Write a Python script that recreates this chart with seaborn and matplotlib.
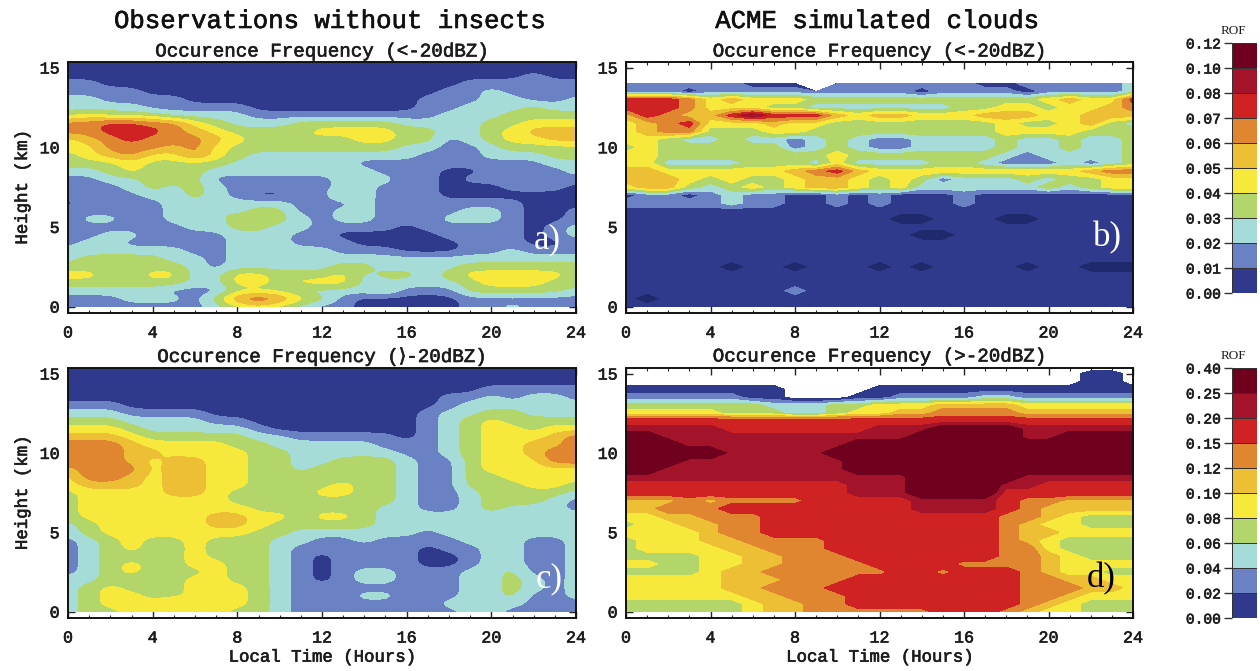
import numpy as np
import matplotlib
matplotlib.use("Agg")
import matplotlib.pyplot as plt
import matplotlib.patheffects as pe
from matplotlib.colors import ListedColormap
from matplotlib.text import Text
from matplotlib.ticker import MultipleLocator
import seaborn as sns

TIME = list(range(25))
HEIGHT_TOP_DOWN = [15.35, 15, 14.5, 14, 13.5, 13, 12.5, 12, 11.5, 11, 10.5, 10, 9.5, 9, 8.5, 8, 7.5, 7, 6.5, 6,
                   5.5, 5, 4.5, 4, 3.5, 3, 2.5, 2, 1.5, 1, 0.5, 0]
LEVELS_LOW = [0, .01, .02, .03, .04, .05, .06, .07, .08, .10, .12]
LEVELS_HIGH = [0, .02, .04, .06, .08, .10, .12, .15, .20, .25, .40]
COLORS = ["#2f3a8c", "#6a82c4", "#a6dcd8", "#b3d66a", "#f6e93c", "#ecbf35", "#e08530", "#cf2323", "#a31329", "#70011e"]
DARK = "#1f2a6d"

# Colour class per cell, height rows from top to bottom, hours 0..24. -1 = no data, -2 = darker than the lowest class
CLASS_A = [
 [0]*25, [0]*25,
 [0,0,0,0,0,0,0,0,0,0,0,0,0,0,0,0,0,0,0,0,0,0,1,0,0],
 [1,1,0,0,0,0,0,0,0,0,0,0,0,0,0,0,0,0,0,1,1,1,1,1,1],
 [1,1,1,1,0,0,0,0,0,0,0,0,0,0,0,0,0,0,1,1,2,1,1,0,1],
 [2,2,1,1,1,1,0,0,0,0,0,0,0,0,0,0,0,1,1,1,2,2,1,1,2],
 [2,2,2,2,1,1,1,1,1,0,0,0,0,0,0,0,0,1,1,2,2,2,3,2,2],
 [3,4,3,3,3,2,2,2,2,1,1,1,1,1,1,1,1,1,2,2,2,3,3,3,3],
 [6,6,7,7,6,6,4,3,2,2,2,3,3,3,3,3,2,2,2,2,3,3,4,4,4],
 [6,6,7,7,7,6,5,4,3,3,3,3,4,4,4,4,3,3,2,2,3,4,5,5,5],
 [4,5,6,7,6,6,6,5,4,3,3,4,3,3,4,4,3,3,1,2,3,4,4,5,5],
 [4,4,6,6,6,5,6,4,3,3,3,3,3,3,3,3,2,2,1,1,2,3,3,3,3],
 [3,4,5,6,4,4,6,4,3,2,2,2,2,2,2,2,2,1,1,1,2,2,2,3,3],
 [3,3,3,4,3,3,3,3,2,2,2,2,2,2,1,1,1,1,1,1,1,1,1,2,2],
 [2,2,3,4,3,3,3,2,2,2,2,2,2,2,2,1,1,1,0,0,1,1,1,1,2],
 [1,1,2,2,3,3,3,1,1,1,1,1,1,2,2,2,1,1,0,1,1,1,1,1,1],
 [1,1,1,2,3,2,3,2,1,1,1,1,1,2,2,1,1,1,0,0,0,1,1,1,0],
 [1,1,1,1,2,2,3,2,1,0,0,1,1,3,2,1,1,1,0,0,0,0,0,0,0],
 [0,1,1,1,1,2,2,2,2,2,2,1,1,1,2,1,1,1,1,1,1,1,0,0,0],
 [1,1,1,1,1,2,2,3,2,3,3,1,1,2,2,1,1,1,1,2,2,1,0,0,1],
 [1,2,2,1,1,2,2,2,3,3,3,2,1,2,2,1,1,1,2,2,2,1,0,0,1],
 [1,1,1,1,1,1,2,2,3,3,2,2,1,1,1,1,0,1,1,1,1,1,0,1,2],
 [1,1,2,2,1,1,1,1,2,2,2,1,1,0,0,0,0,0,1,1,1,1,0,1,2],
 [1,2,2,1,1,1,1,1,2,2,2,1,1,1,0,0,0,0,0,1,1,1,0,0,1],
 [2,2,2,2,2,2,1,1,2,2,2,2,2,1,1,1,0,0,0,1,1,2,1,1,1],
 [2,3,3,3,3,2,2,1,2,2,2,2,2,2,2,2,2,2,2,2,2,2,2,2,2],
 [3,3,3,3,3,3,2,1,2,2,2,2,2,3,3,2,2,2,2,3,3,3,3,3,3],
 [4,4,3,3,4,4,2,2,4,4,3,3,3,4,2,3,3,2,3,4,4,4,4,4,3],
 [3,3,3,3,3,3,2,2,4,4,3,4,4,4,2,2,2,2,2,3,4,4,4,3,3],
 [2,2,2,2,2,1,1,1,3,3,3,2,2,2,2,3,1,1,1,3,3,3,3,3,2],
 [1,1,1,2,2,2,1,3,6,7,6,4,3,1,0,0,0,0,0,1,1,1,1,1,1],
 [1,1,1,1,1,1,1,2,3,4,3,2,1,1,0,0,0,0,0,1,1,2,1,1,1],
]
CLASS_B = [
 [-1]*25, [-1]*25, [-1]*25,
 [1,1,1,1,1,1,0,0,0,-1,1,1,1,1,1,1,1,0,0,1,1,1,1,1,2],
 [1,1,1,0,1,1,1,1,1,1,1,1,1,1,0,1,1,1,1,0,1,1,1,1,2],
 [7,7,7,6,4,5,4,4,4,3,3,3,3,3,3,3,3,3,3,3,4,5,4,4,7],
 [7,7,7,6,4,4,4,3,3,2,2,2,2,2,2,2,3,3,4,4,3,4,4,5,6],
 [5,7,6,5,5,7,8,7,7,7,5,4,5,5,4,4,4,5,5,5,4,4,5,5,5],
 [4,5,6,7,4,4,4,5,4,4,3,3,3,3,3,3,3,3,4,3,3,4,5,3,2],
 [4,5,6,6,3,3,3,4,4,3,3,3,3,3,3,3,3,3,4,4,4,4,3,3,3],
 [4,4,3,2,2,3,2,2,1,2,3,2,1,1,2,2,2,2,3,2,2,3,2,2,3],
 [3,4,3,3,3,3,3,3,1,2,3,2,1,1,2,2,2,2,3,2,2,3,2,2,3],
 [4,4,3,3,3,3,3,3,3,3,4,3,3,3,3,3,3,3,2,1,2,2,2,2,3],
 [4,4,2,2,2,2,3,3,3,2,4,2,2,2,2,3,3,2,1,1,1,2,1,2,3],
 [5,5,4,4,4,4,4,4,5,6,7,5,4,4,4,4,4,4,4,4,4,4,5,6,6],
 [5,5,5,4,3,4,3,3,4,5,5,4,3,4,3,1,2,2,2,3,2,3,3,4,4],
 [4,5,5,3,2,3,4,3,4,5,5,4,3,4,2,2,2,2,2,2,3,2,3,4,4],
 [0,1,1,0,1,2,1,1,0,0,1,0,1,0,0,0,1,0,0,0,0,0,0,0,0],
 [1,1,1,1,1,2,1,1,0,0,1,0,1,0,0,0,1,0,0,0,0,0,0,0,0],
 [0]*25,
 [0,0,0,0,0,0,0,0,0,0,0,0,0,-2,-2,0,0,0,-2,-2,0,0,0,0,0],
 [0]*25,
 [0,0,0,0,0,0,0,0,0,0,0,0,0,0,-2,-2,0,0,0,0,0,0,0,0,0],
 [0]*25, [0]*25, [0]*25,
 [0,0,0,0,0,-2,0,0,-2,0,0,0,-2,0,-2,0,0,0,0,-2,0,0,-2,-2,-2],
 [0]*25, [0]*25,
 [0,0,0,0,0,0,0,0,1,0,0,0,0,0,0,0,0,0,0,0,0,0,0,0,0],
 [0,-2,0,0,0,0,0,0,0,0,0,0,0,0,0,0,0,0,0,0,0,0,0,0,0],
 [0]*25,
]
CLASS_C = [
 [0]*25, [0]*25, [0]*25,
 [0,0,0,0,0,0,0,0,0,0,0,0,0,0,0,0,0,0,0,0,1,1,1,1,1],
 [0,0,0,0,0,0,0,0,0,0,0,0,0,0,0,0,0,0,1,1,2,1,2,2,1],
 [1,1,1,0,0,0,0,0,0,0,0,0,0,0,0,0,0,0,1,2,2,2,2,2,2],
 [2,2,2,1,1,1,1,0,0,0,0,0,0,0,0,0,0,1,2,2,3,3,2,2,2],
 [3,3,3,2,2,2,2,1,1,0,0,0,0,0,0,0,0,1,2,3,4,3,3,3,3],
 [4,4,4,3,2,2,2,2,2,1,0,0,0,0,0,0,0,1,2,3,4,4,3,4,4],
 [5,5,5,4,3,3,3,3,3,2,2,1,1,1,1,1,0,1,2,3,4,4,4,5,6],
 [6,6,6,5,4,4,4,4,3,3,2,2,2,2,2,1,1,1,2,3,4,4,5,5,6],
 [6,6,6,5,5,4,4,4,4,3,3,2,2,2,2,2,1,1,2,3,4,4,5,6,6],
 [6,6,6,5,4,5,5,4,4,3,3,2,2,3,3,3,2,1,1,3,4,4,4,6,6],
 [5,6,6,6,4,5,5,4,4,3,3,2,3,3,3,3,2,1,1,3,4,4,4,4,4],
 [4,6,6,5,4,5,5,4,4,3,3,3,3,3,3,3,2,1,1,3,3,4,4,4,4],
 [4,5,5,5,4,5,5,4,4,3,3,3,3,4,3,3,2,1,1,3,3,3,4,4,3],
 [3,4,4,4,4,5,5,4,3,3,3,3,4,4,3,3,2,1,1,2,3,3,3,3,2],
 [3,4,4,4,4,4,4,4,3,3,3,3,3,3,3,3,2,1,1,2,3,3,3,2,1],
 [3,4,4,4,4,4,4,4,4,3,3,3,3,3,3,2,2,1,1,2,3,2,2,2,1],
 [3,4,4,4,4,4,4,5,5,4,4,3,4,4,3,2,2,2,2,2,2,2,2,2,2],
 [2,3,4,4,4,4,4,5,5,4,3,3,3,3,3,2,2,2,2,2,2,3,2,2,2],
 [2,3,4,4,4,4,4,4,4,3,3,2,2,2,2,2,2,1,2,2,2,2,2,2,2],
 [1,2,3,4,3,3,4,3,3,3,2,2,1,1,2,1,1,1,1,2,2,2,1,1,2],
 [1,2,3,4,3,3,4,3,3,3,2,1,1,1,1,1,1,0,1,1,2,2,1,1,2],
 [1,2,3,3,3,3,4,3,3,3,2,1,0,1,1,1,1,0,0,1,2,2,1,1,2],
 [1,2,3,4,3,3,4,4,3,3,2,1,0,1,1,1,1,0,0,1,2,2,1,1,2],
 [1,2,3,4,3,3,3,4,3,3,2,1,0,1,2,2,1,1,1,2,2,3,1,1,2],
 [2,2,3,3,2,3,4,4,3,3,2,1,0,1,2,2,1,1,1,2,2,3,2,1,2],
 [2,3,4,3,3,3,4,4,4,3,2,1,1,1,1,1,1,1,1,2,2,3,2,1,2],
 [2,3,4,4,3,3,4,4,4,3,2,1,1,1,2,2,1,1,1,2,2,3,1,1,2],
 [2,3,4,4,4,5,4,4,4,3,2,1,1,1,1,1,1,1,2,2,2,2,1,1,1],
 [2,3,3,4,4,4,4,4,3,3,2,1,1,1,1,1,1,1,1,2,2,1,1,1,1],
]
CLASS_D = [
 [-1]*25,
 [-1,-1,-1,-1,-1,-1,-1,-1,-1,-1,-1,-1,-1,-1,-1,-1,-1,-1,-1,-1,-1,-1,0,0,-1],
 [-1,-1,-1,-1,-1,-1,-1,-1,-1,-1,-1,-1,-1,-1,-1,-1,-1,-1,-1,-1,-1,-1,0,0,-1],
 [0,0,0,0,0,0,0,0,-1,-1,-1,-1,0,0,0,0,0,0,0,0,0,0,0,0,0],
 [1,1,1,1,1,1,0,0,-1,-1,-1,0,0,1,1,1,1,2,2,1,1,1,1,1,1],
 [3,3,3,3,3,3,3,2,2,2,3,3,4,4,4,5,5,5,5,4,4,4,4,4,4],
 [4,4,4,4,4,3,3,3,2,2,3,4,4,5,5,6,6,6,6,5,5,5,5,5,5],
 [7]*25,
 [8,8,8,8,8,7,7,7,7,7,7,7,8,8,8,9,9,9,9,8,8,8,8,8,8],
 [9,9,8,8,8,8,8,8,8,8,8,8,8,8,9,9,9,9,9,8,8,9,9,9,9],
 [9,9,9,8,8,8,8,8,8,8,8,9,9,9,9,9,9,9,9,9,9,9,9,9,9],
 [9,9,9,9,9,8,8,8,8,8,9,9,9,9,9,9,9,9,9,9,9,9,9,9,9],
 [9,9,9,8,8,8,8,8,8,8,8,9,9,9,9,9,9,9,9,9,9,9,9,9,9],
 [9,9,8,8,8,8,8,8,8,8,8,9,9,9,9,9,9,9,9,9,9,9,9,9,9],
 [8,8,8,8,8,8,8,8,8,8,8,8,8,8,9,9,9,9,9,8,8,8,8,8,8],
 [7,7,7,7,7,7,7,7,7,7,7,8,8,8,9,9,9,9,8,8,7,7,7,7,7],
 [7,7,7,7,7,7,7,7,7,7,7,8,8,8,9,9,9,9,7,7,7,7,7,7,7],
 [5,5,5,6,5,6,6,6,6,7,7,7,7,7,8,8,8,8,7,6,6,5,5,5,5],
 [5,5,6,6,6,7,7,7,7,7,7,7,7,7,8,8,8,8,7,6,5,5,5,5,5],
 [4,4,5,5,6,6,6,7,7,7,7,7,7,7,7,7,7,7,6,6,5,4,3,3,3],
 [3,4,4,5,5,6,6,7,7,7,7,7,7,7,7,7,7,7,6,5,4,4,3,3,3],
 [4,4,4,4,5,6,6,7,7,7,7,7,7,7,7,7,7,7,6,5,5,4,4,4,4],
 [3,4,4,4,5,5,6,6,6,6,7,7,7,7,7,7,7,7,6,5,4,3,3,3,3],
 [3,4,4,4,4,5,5,6,6,6,7,7,7,7,7,7,7,7,6,6,4,3,3,3,3],
 [3,3,3,3,4,4,5,5,6,6,6,7,7,7,7,7,7,7,6,6,5,4,3,3,3],
 [4,4,3,3,4,4,5,5,6,6,6,6,7,7,7,7,6,6,6,6,5,4,4,4,4],
 [3,3,3,3,4,5,5,6,6,6,6,6,6,7,7,6,7,7,7,6,5,4,4,3,3],
 [4,4,4,4,4,5,5,5,6,6,6,7,7,7,7,7,7,7,7,6,6,5,5,4,4],
 [4,4,4,4,4,5,5,6,6,6,7,7,7,7,7,7,7,7,7,6,6,6,5,5,4],
 [4,4,4,4,4,4,5,5,6,6,6,7,7,7,7,7,7,7,7,6,6,5,4,4,4],
 [3,3,3,3,3,3,4,5,5,6,6,7,7,7,7,7,7,7,7,6,5,4,3,3,3],
 [3,3,3,3,3,3,4,5,5,6,6,6,6,6,6,7,7,7,6,5,4,4,3,3,3],
]

sns.set_theme(style="white")
MONO = "Liberation Mono"
INK = "#1c1c1c"
plt.rcParams["font.family"] = [MONO, "DejaVu Sans"]
palette = sns.color_palette(COLORS)
W, H = 1260, 671


def box(l, t, r, b):
    return [l / W, 1 - b / H, (r - l) / W, (b - t) / H]


def rof(classes, levels, white, dark=-0.01):
    c = np.array(classes, dtype=int)[::-1]
    mids = (np.array(levels[:-1]) + np.array(levels[1:])) / 2
    out = mids[np.clip(c, 0, 9)]
    out[c == -1] = white
    out[c == -2] = dark
    return out


def soften(x, y, z, factor=4, half=3):
    """Resample on a finer grid and round the contours, as in the observed panels."""
    fx = np.linspace(x[0], x[-1], (len(x) - 1) * factor + 1)
    fy = np.linspace(y[0], y[-1], (len(y) - 1) * factor + 1)
    zz = np.array([np.interp(fx, x, row) for row in z])
    zz = np.array([np.interp(fy, y, col) for col in zz.T]).T
    kernel = np.bartlett(2 * half + 3)[1:-1]
    kernel = kernel / kernel.sum()
    for axis in (0, 1):
        pad = [(0, 0), (0, 0)]
        pad[axis] = (half, half)
        padded = np.pad(zz, pad, mode="edge")
        zz = np.apply_along_axis(lambda m: np.convolve(m, kernel, mode="valid"), axis, padded)
    return fx, fy, zz


fig = plt.figure(figsize=(W / 100, H / 100), dpi=100, facecolor="white")
heights = np.array(HEIGHT_TOP_DOWN[::-1], dtype=float)
panels = [
    (CLASS_A, LEVELS_LOW, box(68, 62, 576, 313), "Occurence Frequency (<-20dBZ)", "a)", "white", -10, False, True, 22.0, 4.2),
    (CLASS_B, LEVELS_LOW, box(626, 62, 1133, 313), "Occurence Frequency (<-20dBZ)", "b)", "white", -10, True, False, 22.1, 4.3),
    (CLASS_C, LEVELS_HIGH, box(68, 368, 576, 618), "Occurence Frequency (\u27e9-20dBZ)", "c)", "white", -10, False, True, 22.1, 2.1),
    (CLASS_D, LEVELS_HIGH, box(626, 368, 1133, 618), "Occurence Frequency (>-20dBZ)", "d)", "black", -0.01, False, False, 21.8, 2.1),
]
for i, (cls, lev, pos, sub, tag, tagc, white, has_dark, smooth, tx, ty) in enumerate(panels):
    ax = fig.add_axes(pos)
    z = rof(cls, lev, white)
    xs, ys = np.array(TIME, dtype=float), heights
    if smooth:
        xs, ys, z = soften(xs, ys, z)
    if has_dark:
        ax.contourf(xs, ys, z, levels=[-0.05] + lev, colors=[DARK] + list(palette))
    else:
        ax.contourf(xs, ys, z, levels=lev, colors=list(palette))
    ax.set_xlim(0, 24)
    ax.set_ylim(-0.4, 15.35)
    ax.xaxis.set_major_locator(MultipleLocator(4))
    ax.xaxis.set_minor_locator(MultipleLocator(1))
    ax.yaxis.set_major_locator(MultipleLocator(5))
    ax.tick_params(which="major", direction="in", length=5, width=1.0, top=True, right=True, left=True, bottom=True,
                   labelsize=12, labelcolor=INK, pad=9)
    ax.tick_params(which="minor", direction="in", length=2.5, width=0.8, top=True, bottom=True)
    ax.tick_params(axis="y", pad=6)
    for s in ax.spines.values():
        s.set_visible(True)
        s.set_linewidth(1.4)
        s.set_color("#111111")
    ax.text(tx, ty, tag, color=tagc, fontsize=25, family="Liberation Serif", weight="normal", ha="left", va="center")
    cx = (pos[0] + pos[2] / 2) * W
    fig.text(cx / W, 1 - (52 if i < 2 else 357) / H, sub, fontsize=13.8, color=INK, ha="center", va="center")
    if i % 2 == 0:
        ax.set_ylabel("Height (km)", fontsize=12.5, color=INK, labelpad=7)
    if i >= 2:
        ax.set_xlabel("Local Time (Hours)", fontsize=12.5, color=INK, labelpad=3)

fig.text(331 / W, 1 - 21 / H, "Observations without insects", fontsize=18.5, color="#111111", ha="center", va="center")
fig.text(878 / W, 1 - 21 / H, "ACME simulated clouds", fontsize=18.5, color="#111111", ha="center", va="center")

cmap = ListedColormap(list(palette))
for lev, pos in ((LEVELS_LOW, box(1232, 43, 1257, 293)), (LEVELS_HIGH, box(1232, 368, 1257, 618))):
    cax = fig.add_axes(pos)
    strip = np.arange(10).reshape(-1, 1)
    sns.heatmap(strip, ax=cax, cmap=cmap, vmin=-0.5, vmax=9.5, cbar=False, linewidths=0.6, linecolor="#333333",
                xticklabels=False, yticklabels=False)
    cax.set_ylim(0, 10)
    cax.set_yticks(range(11))
    cax.set_yticklabels([f"{v:.2f}" for v in lev], fontsize=10.5, color=INK, rotation=0)
    cax.tick_params(axis="y", left=True, direction="out", length=6, width=1.0, pad=2, color="#333333")
    cax.text(0.05, 10.25, "ROF", fontsize=9.5, color=INK, ha="center", va="bottom", family="Liberation Serif")

# The reference lettering has a slightly heavier stroke than the regular face
for t in fig.findobj(Text):
    if t.get_text() and t.get_fontfamily()[0] == MONO:
        t.set_path_effects([pe.withStroke(linewidth=0.45, foreground=t.get_color())])

fig.savefig("out.png", dpi=100, facecolor="white")
